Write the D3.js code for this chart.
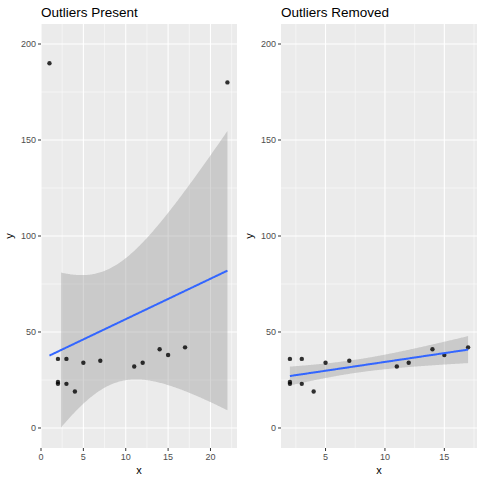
<!DOCTYPE html><html><head><script src="https://cdn.jsdelivr.net/npm/d3@7"></script>
<style>body{margin:0}text{font-family:"Liberation Sans",Arial,sans-serif}</style></head><body><svg id="c" width="486" height="482"></svg>
<script>
const xAll=[1,22,2,2,2,3,3,4,5,7,11,12,14,15,17];
const yAll=[190,180,36,24,23,36,23,19,34,35,32,34,41,38,42];
const xClean=[2,2,2,3,3,4,5,7,11,12,14,15,17];
const yClean=[36,24,23,36,23,19,34,35,32,34,41,38,42];
const titles=["Outliers Present","Outliers Removed"];
const yTicks=[0,50,100,150,200];
const xTicksL=[0,5,10,15,20], xTicksR=[5,10,15];
const tq=[2.160,2.201];
const svg=d3.select("#c");
function panel(xs,ys,x0,x1,xdom,xt,title,t,cutNeg){
  const top=24,bot=448;
  const x=d3.scaleLinear().domain(xdom).range([x0,x1]);
  const y=d3.scaleLinear().domain([-10.42,210.42]).range([bot,top]);
  const g=svg.append("g");
  g.append("rect").attr("x",x0).attr("y",top).attr("width",x1-x0).attr("height",bot-top).attr("fill","#ebebeb");
  const mx=[],my=[];
  for(let i=0;i<xt.length-1;i++)mx.push((xt[i]+xt[i+1])/2);
  if(xt[0]-2.5>xdom[0])mx.unshift(xt[0]-2.5);
  if(xt[xt.length-1]+2.5<xdom[1])mx.push(xt[xt.length-1]+2.5);
  for(let i=0;i<yTicks.length-1;i++)my.push(yTicks[i]+25);
  mx.forEach(v=>g.append("line").attr("x1",x(v)).attr("x2",x(v)).attr("y1",top).attr("y2",bot).attr("stroke","#fff").attr("stroke-width",0.5));
  my.forEach(v=>g.append("line").attr("y1",y(v)).attr("y2",y(v)).attr("x1",x0).attr("x2",x1).attr("stroke","#fff").attr("stroke-width",0.5));
  xt.forEach(v=>{g.append("line").attr("x1",x(v)).attr("x2",x(v)).attr("y1",top).attr("y2",bot).attr("stroke","#fff").attr("stroke-width",1.1);
    g.append("line").attr("x1",x(v)).attr("x2",x(v)).attr("y1",bot).attr("y2",bot+3).attr("stroke","#333");
    g.append("text").attr("x",x(v)).attr("y",bot+12).attr("text-anchor","middle").attr("font-size",9).attr("fill","#4d4d4d").text(v);});
  yTicks.forEach(v=>{g.append("line").attr("y1",y(v)).attr("y2",y(v)).attr("x1",x0).attr("x2",x1).attr("stroke","#fff").attr("stroke-width",1.1);
    g.append("line").attr("y1",y(v)).attr("y2",y(v)).attr("x1",x0-3).attr("x2",x0).attr("stroke","#333");
    g.append("text").attr("x",x0-5).attr("y",y(v)+3).attr("text-anchor","end").attr("font-size",9).attr("fill","#4d4d4d").text(v);});
  const n=xs.length,xm=d3.mean(xs),ym=d3.mean(ys);
  const sxx=d3.sum(xs,v=>(v-xm)**2);
  const b=d3.sum(xs.map((v,i)=>(v-xm)*(ys[i]-ym)))/sxx,a=ym-b*xm;
  const s=Math.sqrt(d3.sum(xs.map((v,i)=>(ys[i]-a-b*v)**2))/(n-2));
  const lo=d3.min(xs),hi=d3.max(xs);
  const pts=d3.range(200).map(i=>{const xv=lo+(hi-lo)*i/199,f=a+b*xv,se=s*Math.sqrt(1/n+(xv-xm)**2/sxx);return {x:xv,f,l:f-t*se,u:f+t*se};});
  const rib=cutNeg?pts.filter(d=>d.l>=0):pts;
  const cid="clip"+x0;
  svg.append("clipPath").attr("id",cid).append("rect").attr("x",x0).attr("y",top).attr("width",x1-x0).attr("height",bot-top);
  const cg=g.append("g").attr("clip-path",`url(#${cid})`);
  cg.append("path").attr("d",d3.area().x(d=>x(d.x)).y0(d=>y(d.l)).y1(d=>y(d.u))(rib)).attr("fill","#999").attr("opacity",0.4);
  xs.forEach((v,i)=>cg.append("circle").attr("cx",x(v)).attr("cy",y(ys[i])).attr("r",2.2).attr("fill","#000").attr("opacity",0.8));
  cg.append("path").attr("d",d3.line().x(d=>x(d.x)).y(d=>y(d.f))(pts)).attr("stroke","#3366FF").attr("stroke-width",2).attr("fill","none");
  g.append("text").attr("x",x0).attr("y",17).attr("font-size",13.5).attr("fill","#000").text(title);
  g.append("text").attr("x",(x0+x1)/2).attr("y",474).attr("text-anchor","middle").attr("font-size",11).text("x");
  g.append("text").attr("transform",`translate(${x0-28},${(top+bot)/2}) rotate(-90)`).attr("text-anchor","middle").attr("font-size",11).text("y");
}
panel(xAll,yAll,41,237,[0,23.13],xTicksL,titles[0],tq[0],true);
panel(xClean,yClean,281,477,[1.25,17.75],xTicksR,titles[1],tq[1],false);
</script></body></html>
